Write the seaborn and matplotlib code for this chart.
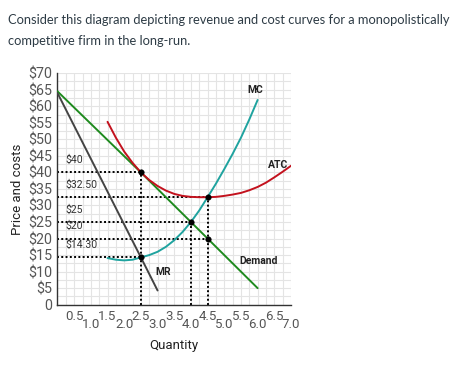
import matplotlib
matplotlib.use("Agg")
import matplotlib.pyplot as plt
import seaborn as sns
import pandas as pd
import numpy as np

# values
demand_q = [0.0, 2.5, 4.5, 6.0]
demand_p = [64.5, 40.0, 20.0, 5.0]
mr_q = [0.0, 2.5, 3.0]
mr_p = [64.0, 14.3, 4.3]
atc_q = [1.5, 1.75, 2.0, 2.25, 2.5, 2.75, 3.0, 3.25, 3.5, 3.75, 4.0, 4.25, 4.5, 4.75, 5.0, 5.25, 5.5, 5.75, 6.0, 6.25, 6.5, 6.75, 7.0]
atc_p = [55.3, 50.5, 46.3, 42.9, 40.0, 37.7, 35.9, 34.5, 33.5, 32.9, 32.6, 32.5, 32.5, 32.6, 32.9, 33.3, 33.8, 34.6, 35.6, 36.9, 38.5, 40.2, 42.0]
mc_q = [1.5, 1.75, 2.0, 2.25, 2.5, 2.75, 3.0, 3.25, 3.5, 3.75, 4.0, 4.25, 4.5, 4.75, 5.0, 5.25, 5.5, 5.75, 6.0]
mc_p = [14.1, 13.6, 13.4, 13.6, 14.3, 15.0, 16.0, 17.5, 19.5, 22.0, 25.0, 28.5, 32.5, 36.6, 41.0, 45.6, 50.5, 56.0, 61.9]

# key points and price labels
point_q = [2.5, 4.5, 4.0, 4.5, 2.5]
point_p = [40.0, 32.5, 25.0, 20.0, 14.3]
price_labels = ["$40", "$32.50", "$25", "$20", "$14.30"]

sns.set_theme(style="white")
plt.rcParams["font.family"] = ["Roboto", "DejaVu Sans"]

fig = plt.figure(figsize=(4.74, 3.65), dpi=100)
ax = fig.add_axes([0.1213, 0.1652, 0.4926, 0.6343])

fig.text(8/474, 1-20/365, "Consider this diagram depicting revenue and cost curves for a monopolistically",
         fontsize=9.3, family="Lato", color="#2d3b45", va="center")
fig.text(8/474, 1-41/365, "competitive firm in the long-run.",
         fontsize=9.3, family="Lato", color="#2d3b45", va="center")

# dotted guides
for q, p in zip(point_q, point_p):
    ax.plot([0, q], [p, p], color="black", lw=1.4, ls=(0, (1, 1.2)), zorder=2)
for q, p in [(2.5, 40.0), (4.0, 25.0), (4.5, 32.5)]:
    ax.plot([q, q], [0, p], color="black", lw=1.4, ls=(0, (1, 1.2)), zorder=2)

sns.lineplot(x=demand_q, y=demand_p, ax=ax, color="#1e8a1e", lw=1.4, zorder=3)
sns.lineplot(x=mr_q, y=mr_p, ax=ax, color="#444444", lw=1.4, zorder=3)
sns.lineplot(x=atc_q, y=atc_p, ax=ax, color="#c3121e", lw=1.4, zorder=3)
sns.lineplot(x=mc_q, y=mc_p, ax=ax, color="#1fa39f", lw=1.4, zorder=3)
sns.scatterplot(x=point_q, y=point_p, ax=ax, color="black", s=16, zorder=4, edgecolor="black")

for p, lab in zip(point_p, price_labels):
    ax.text(0.24, p + 3.8, lab, fontsize=7.5, color="#333333", va="center", ha="left")

ax.text(5.93, 64.9, "MC", fontsize=7.5, fontweight="bold", ha="center", va="center", color="#222222")
ax.text(6.6, 42.3, "ATC", fontsize=7.5, fontweight="bold", ha="center", va="center", color="#222222")
ax.text(6.03, 13.2, "Demand", fontsize=7.5, fontweight="bold", ha="center", va="center", color="#222222")
ax.text(3.18, 9.9, "MR", fontsize=7.5, fontweight="bold", ha="center", va="center", color="#222222")

ax.set_xlim(0, 7)
ax.set_ylim(0, 70)

xt = np.arange(0.25, 7.01, 0.25)
ax.set_xticks(xt)
ax.set_xticklabels([("%.1f" % v) if abs(v * 2 - round(v * 2)) < 1e-9 else "" for v in xt])
for v, tick in zip(xt, ax.xaxis.get_major_ticks()):
    tick.set_pad(9.5 if abs(v - round(v)) < 1e-9 else 3.5)

yt = np.arange(0, 70.01, 2.5)
ax.set_yticks(yt)
ylabs = []
for v in yt:
    if v == 0:
        ylabs.append("0")
    elif v % 5 == 0:
        ylabs.append("$%d" % v)
    else:
        ylabs.append("")
ax.set_yticklabels(ylabs)

ax.tick_params(axis="x", length=0, labelsize=9.5, labelcolor="#555555")
ax.tick_params(axis="y", length=0, labelsize=10.3, labelcolor="#555555", pad=4)
ax.grid(True, color="#e4e4e4", lw=0.8)
for s in ["top", "right"]:
    ax.spines[s].set_visible(False)
for s in ["left", "bottom"]:
    ax.spines[s].set_color("#333333")
    ax.spines[s].set_linewidth(1.0)

ax.set_ylabel("Price and costs", fontsize=9.5, color="#222222", labelpad=3)
ax.set_xlabel("Quantity", fontsize=9.5, color="#222222", labelpad=6)

fig.savefig("out.png", dpi=100)
